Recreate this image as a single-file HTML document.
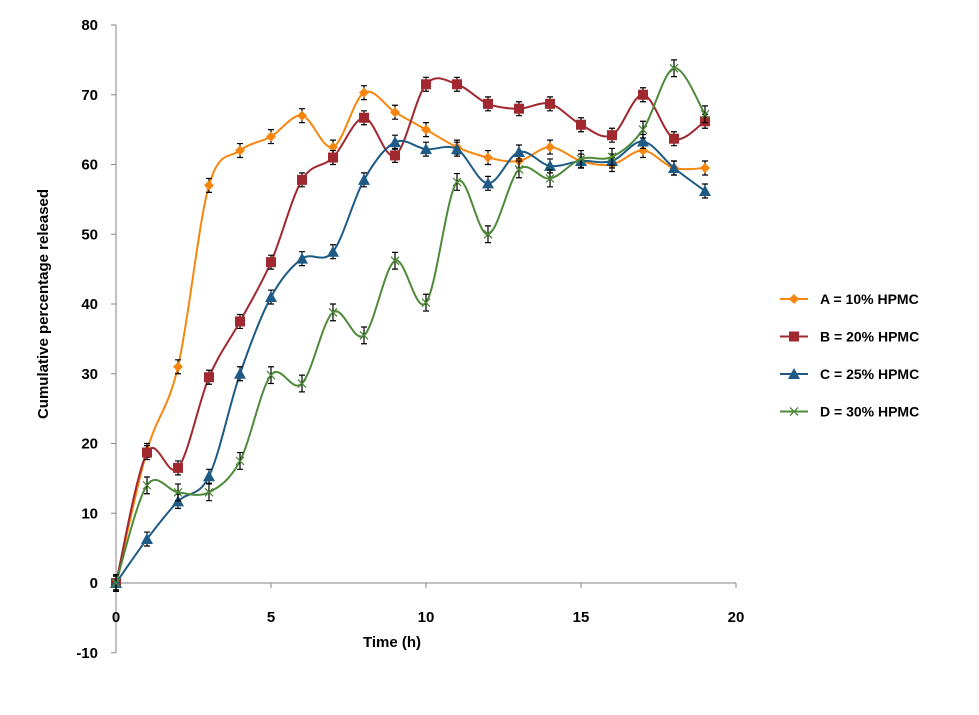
<!DOCTYPE html>
<html><head><meta charset="utf-8"><style>
body{margin:0;background:#fff;font-family:"Liberation Sans",Arial,sans-serif}
svg text{font-family:"Liberation Sans",Arial,sans-serif;font-weight:bold;fill:#000}
</style></head><body>
<svg id="chart" width="979" height="710" viewBox="0 0 979 710"></svg>
<script>
const xVals=[0,1,2,3,4,5,6,7,8,9,10,11,12,13,14,15,16,17,18,19];
const seriesA=[0,19,31,57,62,64,67,62.5,70.3,67.5,65,62.5,61,60.5,62.5,60.5,60,62,59.5,59.5];
const seriesB=[0,18.7,16.5,29.5,37.5,46,57.8,61,66.7,61.3,71.5,71.5,68.7,68,68.7,65.7,64.2,70,63.7,66.2];
const seriesC=[0,6.3,11.7,15.3,30,41,46.5,47.5,57.8,63.2,62.2,62.2,57.3,61.8,59.8,60.5,60.5,63.3,59.5,56.2];
const seriesD=[0,14,13,13,17.5,29.8,28.6,38.8,35.5,46.2,40.2,57.5,50,59.3,58,60.8,61.1,65,73.8,67.2];
const errA=1,errB=1,errC=1,errD=1.2;
const xTicks=[0,5,10,15,20];
const yTicks=[-10,0,10,20,30,40,50,60,70,80];
const names=["A = 10% HPMC","B = 20% HPMC","C = 25% HPMC","D = 30% HPMC"];
const NS="http://www.w3.org/2000/svg";
const svg=document.getElementById('chart');
const X=v=>116+v*31, Y=v=>583-v*6.975;
function el(t,a,p){const e=document.createElementNS(NS,t);for(const k in a)e.setAttribute(k,a[k]);(p||svg).appendChild(e);return e;}
// axes
let ax=el('line',{x1:X(0),y1:Y(80),x2:X(0),y2:Y(-10),stroke:'#868686','stroke-width':1});

let bx=el('line',{x1:X(0),y1:Y(0),x2:X(20),y2:Y(0),stroke:'#868686','stroke-width':1});

yTicks.forEach(v=>{
 el('line',{x1:X(0)-5,y1:Y(v),x2:X(0),y2:Y(v),stroke:'#868686'});
 const t=el('text',{x:X(0)-18,y:Y(v)+5,'text-anchor':'end','font-size':15});t.textContent=v;
 
});
xTicks.forEach(v=>{
 el('line',{x1:X(v),y1:Y(0),x2:X(v),y2:Y(0)+5,stroke:'#868686'});
 const t=el('text',{x:X(v),y:Y(0)+39,'text-anchor':'middle','font-size':15});t.textContent=v;
 
});
let xt=el('text',{x:392,y:647,'text-anchor':'middle','font-size':15});xt.textContent='Time (h)';

let yt=el('text',{x:0,y:0,'text-anchor':'middle','font-size':15,transform:'translate(48,304) rotate(-90)'});yt.textContent='Cumulative percentage released';

function smooth(pts){
 let d=`M${pts[0][0]},${pts[0][1]}`;const t=1/6;
 for(let i=0;i<pts.length-1;i++){
  const p0=pts[i-1]||pts[i],p1=pts[i],p2=pts[i+1],p3=pts[i+2]||p2;
  d+=` C${p1[0]+(p2[0]-p0[0])*t},${p1[1]+(p2[1]-p0[1])*t} ${p2[0]-(p3[0]-p1[0])*t},${p2[1]-(p3[1]-p1[1])*t} ${p2[0]},${p2[1]}`;
 }
 return d;
}
function marker(type,x,y,c,g){
 if(type==='diamond')return el('path',{d:`M${x},${y-5}L${x+5},${y}L${x},${y+5}L${x-5},${y}Z`,fill:c},g);
 if(type==='square')return el('rect',{x:x-5,y:y-5,width:10,height:10,fill:c},g);
 if(type==='tri')return el('path',{d:`M${x},${y-6}L${x+6},${y+5}L${x-6},${y+5}Z`,fill:c},g);
 return el('path',{d:`M${x-4},${y-4}L${x+4},${y+4}M${x+4},${y-4}L${x-4},${y+4}`,stroke:c,'stroke-width':1.3,fill:'none'},g);
}
const defs=[[seriesA,errA,'#F7860F','diamond','series-a'],[seriesB,errB,'#A0282E','square','series-b'],[seriesC,errC,'#1D5A85','tri','series-c'],[seriesD,errD,'#4E8A3A','x','series-d']];
defs.forEach(([s,e,c,m,n])=>{
 const g=el('g',{});
 const pts=xVals.map((x,i)=>[X(x),Y(s[i])]);
 el('path',{d:smooth(pts),fill:'none',stroke:c,'stroke-width':2},g);
 pts.forEach(([x,y],i)=>{
  const y1=Y(s[i]+e),y2=Y(s[i]-e);
  el('path',{d:`M${x},${y1}V${y2}M${x-3},${y1}H${x+3}M${x-3},${y2}H${x+3}`,stroke:'#000','stroke-width':1.2,fill:'none'},g);
  const mk=marker(m,x,y,c,g);
 });
});
names.forEach((nm,i)=>{
 const [s,e,c,m]=defs[i];const y=299+i*37.5;
 const g=el('g',{});
 el('line',{x1:780,y1:y,x2:808,y2:y,stroke:c,'stroke-width':2},g);
 marker(m,794,y,c,g);
 const t=el('text',{x:820,y:y+5,'font-size':14},g);t.textContent=nm;
});
</script>
</body></html>
